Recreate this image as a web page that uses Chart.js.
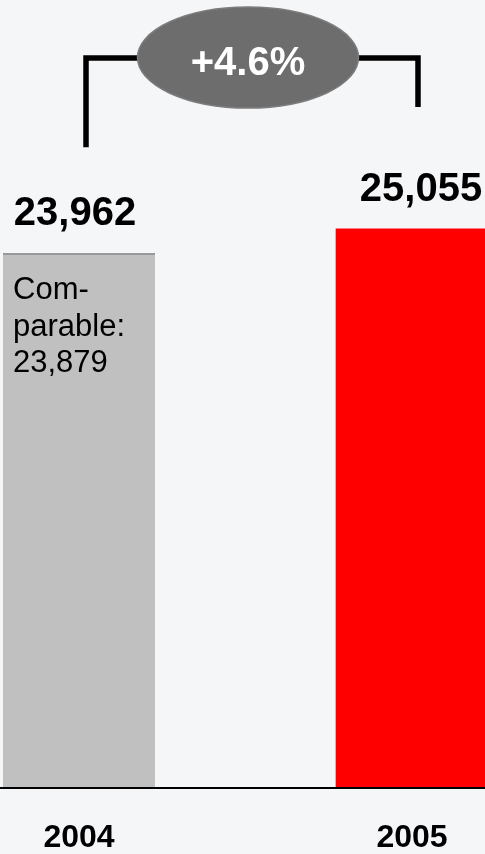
<!DOCTYPE html>
<html>
<head>
<meta charset="utf-8">
<script src="https://cdn.jsdelivr.net/npm/chart.js@4/dist/chart.umd.min.js"></script>
<style>
  html, body { margin: 0; padding: 0; background: #f5f6f8; }
  #wrap { width: 485px; height: 854px; }
</style>
</head>
<body>
<div id="wrap"><canvas id="chart" width="485" height="854"></canvas></div>
<script>
const years = ["2004", "2005"];
const revenue = [23962, 25055];
const comparable = [23879, null];
const barColors = ["#c0c0c0", "#ff0000"];

const FONT = "'Liberation Sans', Arial, Helvetica, sans-serif";
const fmt = (v) => v.toLocaleString("en-US");

// value labels, comparable note, growth bracket and baseline
const annotations = {
  id: "annotations",
  afterDatasetsDraw(chart) {
    const { ctx } = chart;
    const bars = chart.getDatasetMeta(0).data;
    const y0 = chart.scales.y.getPixelForValue(0);

    ctx.save();
    // baseline across the whole width
    ctx.fillStyle = "#000";
    ctx.fillRect(0, Math.round(y0) - 1, chart.width, 2);

    // totals above each bar
    ctx.font = `bold 40px ${FONT}`;
    ctx.textAlign = "center";
    ctx.textBaseline = "alphabetic";
    const labelShift = [-4, 9];
    bars.forEach((bar, i) => {
      ctx.fillText(fmt(revenue[i]), bar.x + labelShift[i], bar.y - 28);
    });

    // comparable figure inside the first bar
    const g = bars[0];
    ctx.font = `31px ${FONT}`;
    ctx.textAlign = "left";
    ["Com-", "parable:", fmt(comparable[0])].forEach((line, k) => {
      ctx.fillText(line, g.x - g.width / 2 + 10, g.y + 46 + k * 36.5);
    });

    // growth bracket
    const growth = (revenue[1] / revenue[0] - 1) * 100;
    const lx = bars[0].x + 7;
    const rx = bars[1].x + 6;
    const top = 58;
    const cx = (lx + rx) / 2 - 4;
    ctx.strokeStyle = "#000";
    ctx.lineWidth = 5.5;
    ctx.lineCap = "butt";
    ctx.beginPath();
    ctx.moveTo(lx, bars[0].y - 106);
    ctx.lineTo(lx, top);
    ctx.lineTo(rx, top);
    ctx.lineTo(rx, bars[1].y - 122);
    ctx.stroke();

    ctx.beginPath();
    ctx.ellipse(cx, 57.5, 110.5, 50.5, 0, 0, Math.PI * 2);
    ctx.fillStyle = "#6d6d6d";
    ctx.fill();
    ctx.lineWidth = 1.5;
    ctx.strokeStyle = "#7c7c7c";
    ctx.stroke();

    ctx.fillStyle = "#fff";
    ctx.font = `bold 40px ${FONT}`;
    ctx.textAlign = "center";
    ctx.fillText(`+${growth.toFixed(1)}%`, cx, 75);
    ctx.restore();
  },
};

new Chart(document.getElementById("chart"), {
  type: "bar",
  data: {
    labels: years,
    datasets: [
      {
        data: revenue,
        backgroundColor: barColors,
        borderColor: ["#999999", "#ff0000"],
        borderWidth: [{ top: 2, left: 0, right: 0, bottom: 0 }, 0],
        borderSkipped: false,
        barThickness: 152,
        clip: false,
      },
    ],
  },
  options: {
    responsive: false,
    animation: false,
    layout: { padding: { left: 79, right: 73, top: 7, bottom: 0 } },
    plugins: { legend: { display: false }, tooltip: { enabled: false } },
    scales: {
      x: {
        offset: false,
        grid: { display: false },
        border: { display: false },
        ticks: {
          color: "#000",
          font: { family: FONT, size: 32, weight: "bold", lineHeight: 1 },
          padding: 26,
          maxRotation: 0,
          autoSkip: false,
        },
        afterFit(scale) {
          scale.height = 66;
        },
      },
      y: {
        display: false,
        min: 0,
        max: 35000,
      },
    },
  },
  plugins: [annotations],
});
</script>
</body>
</html>
